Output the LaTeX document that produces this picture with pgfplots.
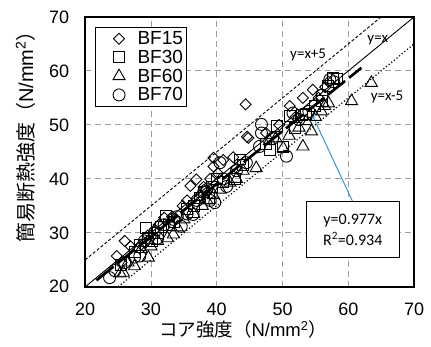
\documentclass[border=0pt]{standalone}
\usepackage{fontspec}
\setmainfont{Liberation Sans}
\newfontfamily\jp{Noto Sans CJK JP}
\newfontfamily\calfont{Carlito}
\usepackage{pgfplots}
\usepackage{pgfplotstable}
\pgfplotsset{compat=1.18}

\pgfplotstableread{
x y
24.8 25.7
26.0 28.5
26.9 27.5
25.5 24.5
28.5 27.8
29.5 29.5
30.6 30.6
31.2 31.5
32.0 32.8
33.2 33.0
34.8 35.0
35.5 36.0
36.0 38.7
36.9 39.9
37.5 37.0
38.2 37.8
39.0 40.0
39.5 42.3
39.5 43.9
40.2 41.0
41.0 43.5
43.0 42.0
44.4 53.8
44.8 47.6
44.6 47.8
47.5 48.5
49.5 50.0
51.1 53.5
52.0 51.5
53.1 55.0
54.6 56.5
55.5 55.0
56.5 57.0
57.0 58.0
38.0 38.5
33.8 32.5
42.5 44.0
}\bfA

\pgfplotstableread{
x y
25.5 24.0
27.5 26.5
28.3 27.8
29.2 30.9
29.5 29.0
30.2 28.5
31.0 30.0
31.5 31.0
32.3 33.1
32.8 31.5
33.5 32.0
35.5 34.5
36.5 35.0
37.5 36.5
38.0 37.5
38.8 36.5
39.2 38.5
40.0 40.0
41.0 39.5
42.8 40.0
43.5 43.6
44.0 42.5
47.5 46.5
48.1 45.4
49.1 49.8
50.1 46.0
51.1 51.6
51.9 49.4
52.9 51.9
53.5 52.0
55.0 53.5
56.0 54.5
56.9 57.2
57.7 58.7
58.3 58.5
}\bfB

\pgfplotstableread{
x y
25.3 22.5
25.8 22.6
26.5 24.5
27.5 23.8
28.5 27.0
29.6 25.4
30.0 27.5
31.0 28.5
32.5 29.0
33.4 29.7
34.0 31.0
35.0 32.5
36.5 33.5
37.8 35.0
38.5 36.0
39.5 37.0
40.5 38.0
42.0 39.3
43.0 40.0
44.0 41.5
46.0 42.0
48.0 47.0
50.1 45.7
51.0 48.0
52.5 49.5
53.1 46.0
53.6 50.7
54.4 48.8
55.0 51.5
55.9 52.5
56.4 53.5
57.0 54.0
60.5 54.4
63.5 57.8
49.0 47.5
}\bfC

\pgfplotstableread{
x y
23.7 21.7
24.5 23.0
26.0 24.5
27.5 25.5
28.3 25.7
29.0 28.5
30.5 30.0
31.0 29.0
32.0 31.5
33.4 32.5
34.0 33.0
34.6 31.2
35.5 33.5
36.4 33.4
37.0 36.0
38.0 37.5
38.5 38.0
39.0 36.0
39.7 35.6
40.5 43.0
41.0 40.0
41.5 38.6
43.0 41.5
44.5 43.0
46.5 46.0
46.8 48.5
46.8 50.1
48.5 47.5
50.6 44.2
51.6 52.2
52.5 51.0
54.0 52.5
56.0 55.5
57.2 58.4
57.8 58.0
}\bfD

\pgfplotsset{
  mylegimg/.style={legend image code/.code={%
    \path[draw=none, fill=none] (0cm,0cm) -- (1.33cm,0cm);
    \draw[##1, only marks] plot coordinates {(0.75cm,0cm)};}},
}

\begin{document}
\begin{tikzpicture}
\begin{axis}[
  scale only axis, width=329pt, height=270pt,
  xmin=20, xmax=70, ymin=20, ymax=70,
  xtick={20,30,40,50,60,70}, ytick={20,30,40,50,60,70},
  grid=major,
  major grid style={gray!75, line width=0.9pt, dash pattern=on 6pt off 4pt},
  major tick length=0pt,
  axis line style={line width=1.6pt},
  /pgf/number format/assume math mode=true,
  tick label style={font=\fontsize{18}{20}\selectfont},
  xticklabel style={anchor=center, inner sep=0pt, yshift=-23pt},
  yticklabel style={anchor=east, inner sep=0pt, xshift=-16pt},
  xlabel={{\jp コア強度（}N/mm\textsuperscript{2}{\jp ）}},
  ylabel={{\jp 簡易断熱強度（}N/mm\textsuperscript{2}{\jp ）}},
  every axis x label/.style={at={(axis description cs:0.48,-0.158)}, anchor=center, inner sep=0pt, font=\fontsize{18.5}{20}\selectfont},
  every axis y label/.style={at={(axis description cs:-0.182,0.574)}, rotate=90, anchor=center, inner sep=0pt, font=\fontsize{20}{22}\selectfont},
  legend style={at={(0,1)}, anchor=north west, xshift=10pt, yshift=-10pt, draw=black, line width=1pt, fill=white,
    font=\fontsize{19}{22}\selectfont, inner xsep=2pt, inner ysep=2pt, row sep=0pt},
  legend cell align=left,
  clip=true,
]
% reference lines
\addplot[forget plot, black, line width=0.9pt] coordinates {(20,20) (70,70)};
\addplot[forget plot, black, line width=0.9pt, dash pattern=on 3pt off 2pt] coordinates {(20,25) (65,70)};
\addplot[forget plot, black, line width=1.2pt, dash pattern=on 1.2pt off 2.2pt] coordinates {(25,20) (70,65)};

\addplot[only marks, mylegimg, mark=square, mark size=3.9pt, mark options={rotate=45, line width=0.9pt, black}] table {\bfA};
\addlegendentry{BF15}
\addplot[only marks, mylegimg, mark=square, mark size=5.5pt, mark options={line width=0.9pt, black}] table {\bfB};
\addlegendentry{BF30}
\addplot[only marks, mylegimg, mark=triangle, mark size=7pt, mark options={line width=0.9pt, black}] table {\bfC};
\addlegendentry{BF60}
\addplot[only marks, mylegimg, mark=o, mark size=6pt, mark options={line width=0.9pt, black}] table {\bfD};
\addlegendentry{BF70}

% regression line
\addplot[forget plot, black, line width=2.6pt, dash pattern=on 22pt off 5pt] coordinates {(21.7,21.2) (62,60.57)};

\node[font=\calfont\fontsize{15}{17}\selectfont] at (axis cs:53.9,63.0) {y=x+5};
\node[font=\calfont\fontsize{15}{17}\selectfont] at (axis cs:64.5,65.7) {y=x};
\node[font=\calfont\fontsize{15}{17}\selectfont] at (axis cs:65.9,55.2) {y=x-5};

\draw[-stealth, color={rgb,255:red,46;green,140;blue,210}, line width=0.9pt] (axis cs:60.7,35.7) -- (axis cs:54.5,51.9);
\node[draw, line width=1pt, fill=white, minimum width=93pt, minimum height=56pt, align=center,
  font=\calfont\fontsize{16}{20.7}\selectfont] at (axis cs:60.68,30.56) {y=0.977x\\R\textsuperscript{2}=0.934};
\end{axis}
\pgfresetboundingbox
\path ([xshift=-85.3pt,yshift=-60pt]current axis.south west) rectangle ([xshift=17pt,yshift=17pt]current axis.north east);
\end{tikzpicture}
\end{document}
